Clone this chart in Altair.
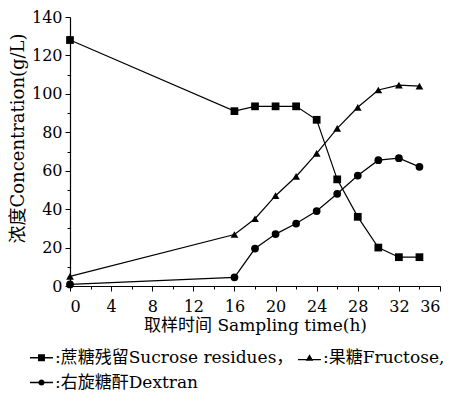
import altair as alt
import pandas as pd

time_h = [0, 16, 18, 20, 22, 24, 26, 28, 30, 32, 34]
sucrose = [128, 91, 93.5, 93.5, 93.5, 86.5, 55.5, 36, 20, 15, 15]
fructose = [5, 26.8, 35, 47, 57, 69, 82, 93, 102, 104.5, 104]
dextran = [0.8, 4.5, 19.5, 27, 32.5, 39, 48, 57.5, 65.5, 66.5, 62]

series_labels = [":蔗糖残留Sucrose residues，", ":果糖Fructose,", ":右旋糖酐Dextran"]
x_ticks = list(range(0, 37, 2))
y_ticks = list(range(0, 141, 10))

rows = []
for name, vals in zip(series_labels, [sucrose, fructose, dextran]):
    for t, v in zip(time_h, vals):
        rows.append({"time": t, "conc": v, "series": name, "legend_series": name})
df = pd.DataFrame(rows)

FONT = "DejaVu Serif, Noto Sans CJK SC"

x_enc = alt.X("time:Q", scale=alt.Scale(domain=[0, 36], nice=False),
              axis=alt.Axis(values=x_ticks, title="取样时间 Sampling time(h)",
                            labelExpr="datum.value % 4 === 0 ? '' + datum.value : ''",
                            tickSize={"condition": {"test": "datum.value % 4 === 0", "value": 5}, "value": 3},
                            labelOverlap=False,
                            titleFontSize=17, labelFontSize=16, titlePadding=3, labelPadding=7))
y_enc = alt.Y("conc:Q", scale=alt.Scale(domain=[0, 140], nice=False),
              axis=alt.Axis(values=y_ticks, title="浓度Concentration(g/L)",
                            labelExpr="datum.value % 20 === 0 ? '' + datum.value : ''",
                            tickSize={"condition": {"test": "datum.value % 20 === 0", "value": 5}, "value": 3},
                            labelOverlap=False, labelSeparation=0,
                            titleX=-52, titleY=121, titleBaseline="middle", titleAlign="center",
                            titleFontSize=18, labelFontSize=16, labelPadding=3))

base = alt.Chart(df)

lines = base.mark_line(color="black", strokeWidth=1.2).encode(
    x=x_enc, y=y_enc, detail="series:N", order="time:Q")

points = base.mark_point(filled=True, color="black", opacity=1, size=60).encode(
    x=x_enc, y=y_enc,
    shape=alt.Shape("series:N", scale=alt.Scale(domain=series_labels,
                                                 range=["square", "triangle-up", "circle"]),
                    legend=None))

sq = "M-1,-0.06L1,-0.06L1,0.06L-1,0.06Z M-0.3,-0.3L0.3,-0.3L0.3,0.3L-0.3,0.3Z"
tri = "M-1,0.1L1,0.1L1,0.22L-1,0.22Z M0,-0.3L0.33,0.26L-0.33,0.26Z"
cir = "M-1,-0.06L1,-0.06L1,0.06L-1,0.06Z M0.27,0A0.27,0.27 0 1,1 -0.27,0A0.27,0.27 0 1,1 0.27,0Z"

legend_layer = base.mark_point(filled=True, color="black", opacity=0, size=1).encode(
    x=x_enc, y=y_enc,
    shape=alt.Shape("legend_series:N",
                    scale=alt.Scale(domain=series_labels, range=[sq, tri, cir]),
                    legend=alt.Legend(title=None, orient="none", legendX=-40, legendY=329,
                                      columns=2, direction="horizontal", columnPadding=4,
                                      rowPadding=5, padding=0, symbolSize=529,
                                      symbolOpacity=1, symbolFillColor="black",
                                      symbolStrokeColor="black", symbolStrokeWidth=0,
                                      labelFontSize=17, labelFont=FONT, labelColor="black",
                                      labelLimit=400, labelOffset=2)))

chart = alt.layer(lines, points, legend_layer).resolve_scale(shape="independent").properties(
    width=370, height=269,
    autosize=alt.AutoSizeParams(type="none"),
    padding={"left": 62, "top": 9, "right": 18, "bottom": 106},
).configure_view(stroke=None).configure_axis(
    labelFont=FONT, titleFont=FONT, labelColor="black", titleColor="black",
    domainColor="black", tickColor="black", grid=False, titleFontWeight="normal",
    domainWidth=1.2, tickWidth=1, labelOverlap=False)

chart.save("out.html", embed_options={"renderer": "svg", "actions": False})
